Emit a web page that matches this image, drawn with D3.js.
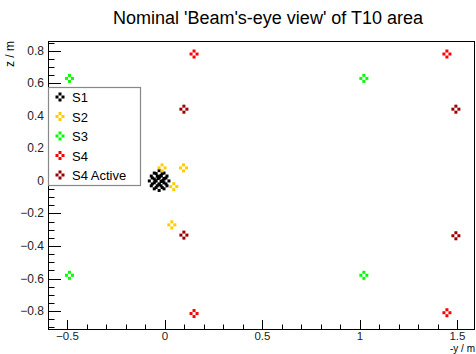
<!DOCTYPE html>
<html>
<head>
<meta charset="utf-8">
<script src="https://cdn.jsdelivr.net/npm/d3@7"></script>
<style>
  body { margin: 0; background: #fff; }
  text { font-family: "Liberation Sans", Arial, sans-serif; }
</style>
</head>
<body>
<div id="chart"></div>
<script>
// series values (x = -y / m, y = z / m)
var seriesNames = ["S1", "S2", "S3", "S4", "S4 Active"]
var seriesColors = ["#000000", "#ffcc00", "#00ff00", "#ff0000", "#990000"]
var s1 = [[-0.065, 0.0], [-0.055, 0.03], [-0.03, 0.045], [-0.005, 0.03], [0.005, 0.0],
          [-0.005, -0.03], [-0.03, -0.04], [-0.055, -0.03], [-0.03, 0.0], [-0.02, 0.015]]
var s2 = [[-0.015, 0.08], [0.095, 0.08], [0.045, -0.035], [0.035, -0.27]]
var s3 = [[-0.49, 0.63], [1.02, 0.63], [-0.49, -0.58], [1.02, -0.58]]
var s4 = [[0.149, 0.78], [1.446, 0.78], [0.149, -0.815], [1.446, -0.81]]
var s4Active = [[0.097, 0.441], [1.492, 0.441], [0.097, -0.333], [1.492, -0.337]]
var xTicks = [-0.5, 0, 0.5, 1, 1.5]
var yTicks = [-0.8, -0.6, -0.4, -0.2, 0, 0.2, 0.4, 0.6, 0.8]

var width = 476, height = 354
var margin = { top: 41, right: 1, bottom: 25, left: 48 }
var w = width - margin.left - margin.right
var h = height - margin.top - margin.bottom

var svg = d3.select("#chart").append("svg")
  .attr("width", width)
  .attr("height", height)

var g = svg.append("g")
  .attr("transform", "translate(" + margin.left + "," + margin.top + ")")

var x = d3.scaleLinear().domain([-0.6, 1.59]).range([0, w])
var y = d3.scaleLinear().domain([-0.91, 0.86]).range([h, 0])
var fmt = d3.format("~g")

// frame
g.append("rect")
  .attr("x", 0.5).attr("y", 0.5)
  .attr("width", w - 1).attr("height", h)
  .attr("fill", "none").attr("stroke", "#000").attr("stroke-width", 1)

// x axis: major + minor ticks pointing up into the frame
var xMinor = d3.range(-0.6, 1.59, 0.1).map(function (d) { return Math.round(d * 10) / 10 })
g.selectAll(".xMinor").data(xMinor).enter().append("line")
  .attr("x1", function (d) { return Math.round(x(d)) + 0.5 })
  .attr("x2", function (d) { return Math.round(x(d)) + 0.5 })
  .attr("y1", h).attr("y2", h - 4.5)
  .attr("stroke", "#000")
g.selectAll(".xMajor").data(xTicks).enter().append("line")
  .attr("x1", function (d) { return Math.round(x(d)) + 0.5 })
  .attr("x2", function (d) { return Math.round(x(d)) + 0.5 })
  .attr("y1", h).attr("y2", h - 9)
  .attr("stroke", "#000")
g.selectAll(".xLab").data(xTicks).enter().append("text")
  .attr("x", function (d) { return x(d) })
  .attr("y", h + 11)
  .attr("text-anchor", "middle")
  .attr("font-size", 11.5)
  .attr("fill", "#222")
  .text(function (d) { return fmt(d) })

// y axis
var yMinor = d3.range(-0.9, 0.86, 0.05).map(function (d) { return Math.round(d * 20) / 20 })
g.selectAll(".yMinor").data(yMinor).enter().append("line")
  .attr("y1", function (d) { return Math.round(y(d)) + 0.5 })
  .attr("y2", function (d) { return Math.round(y(d)) + 0.5 })
  .attr("x1", 0).attr("x2", 6.5)
  .attr("stroke", "#000")
g.selectAll(".yMajor").data(yTicks).enter().append("line")
  .attr("y1", function (d) { return Math.round(y(d)) + 0.5 })
  .attr("y2", function (d) { return Math.round(y(d)) + 0.5 })
  .attr("x1", 0).attr("x2", 13)
  .attr("stroke", "#000")
g.selectAll(".yLab").data(yTicks).enter().append("text")
  .attr("x", -4)
  .attr("y", function (d) { return y(d) + 4 })
  .attr("text-anchor", "end")
  .attr("font-size", 12)
  .attr("fill", "#222")
  .text(function (d) { return fmt(d) })

// ROOT-like open cross marker made of four little squares
function marker(sel, color) {
  [[0, -3], [-3, 0], [3, 0], [0, 3]].forEach(function (o) {
    sel.append("rect")
      .attr("x", o[0] - 1.5).attr("y", o[1] - 1.5)
      .attr("width", 3).attr("height", 3)
      .attr("fill", color)
  })
}

var allSeries = [s1, s2, s3, s4, s4Active]
allSeries.forEach(function (pts, i) {
  g.selectAll(".pt" + i).data(pts).enter().append("g")
    .attr("class", "pt" + i)
    .attr("transform", function (d) { return "translate(" + x(d[0]) + "," + y(d[1]) + ")" })
    .each(function () { marker(d3.select(this), seriesColors[i]) })
})

// legend
var legend = svg.append("g").attr("transform", "translate(48,87)")
legend.append("rect")
  .attr("x", 0.5).attr("y", 0.5).attr("width", 92).attr("height", 98)
  .attr("fill", "#fff").attr("stroke", "#888").attr("stroke-width", 1.2)
seriesNames.forEach(function (name, i) {
  var row = legend.append("g").attr("transform", "translate(12," + (10 + i * 19.5) + ")")
  marker(row, seriesColors[i])
  row.append("text")
    .attr("x", 12).attr("y", 5)
    .attr("font-size", 13)
    .attr("fill", "#000")
    .text(name)
})

// titles
svg.append("text")
  .attr("x", 268).attr("y", 24)
  .attr("text-anchor", "middle")
  .attr("font-size", 18)
  .text("Nominal 'Beam's-eye view' of T10 area")

svg.append("text")
  .attr("x", 475).attr("y", 351.5)
  .attr("text-anchor", "end")
  .attr("font-size", 10)
  .text("-y / m")

svg.append("text")
  .attr("transform", "translate(14,41) rotate(-90)")
  .attr("text-anchor", "end")
  .attr("font-size", 12)
  .text("z / m")
</script>
</body>
</html>
